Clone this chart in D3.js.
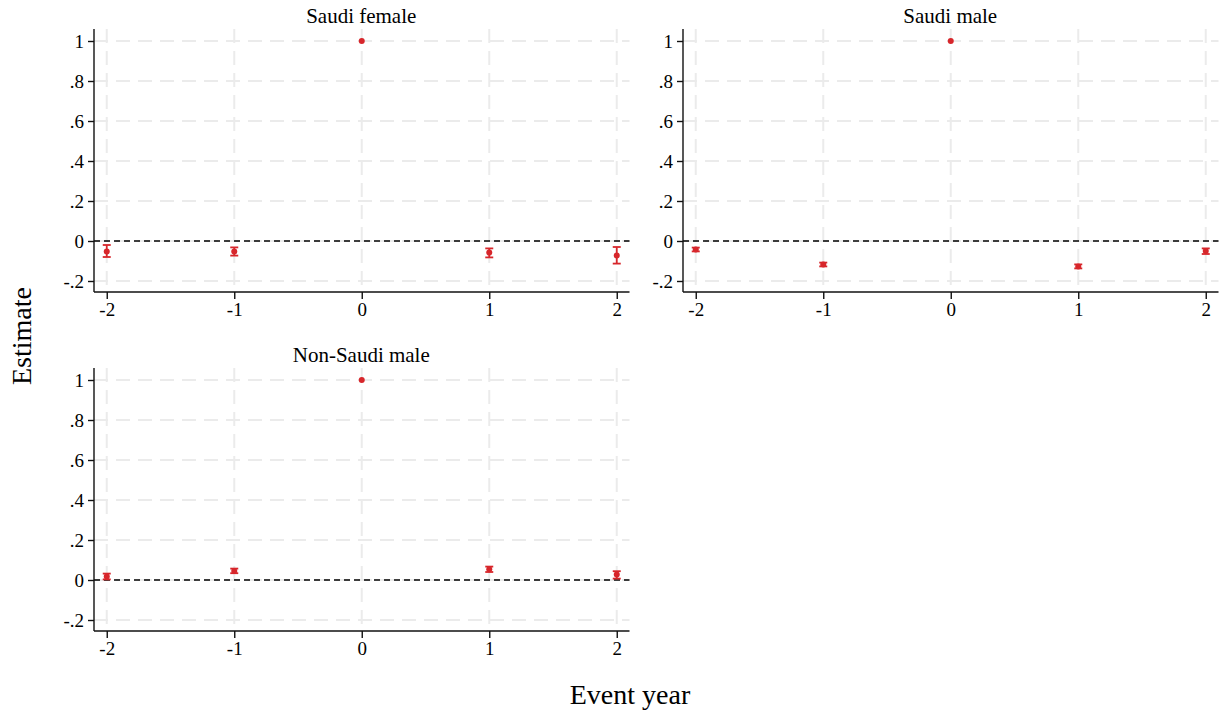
<!DOCTYPE html>
<html>
<head>
<meta charset="utf-8">
<script src="https://cdn.jsdelivr.net/npm/d3@7"></script>
<style>
  html, body { margin: 0; padding: 0; background: #fff; }
  svg { display: block; }
  svg text { font-family: "Liberation Serif", "Times New Roman", serif; }
</style>
</head>
<body>
<svg id="chart" width="1225" height="715"></svg>
<script>
// Event-study estimates by group, with 95% confidence bounds
const eventYears = [-2, -1, 0, 1, 2];
const groups = ["Saudi female", "Saudi male", "Non-Saudi male"];

const femaleEst = [-0.052, -0.052, 1, -0.058, -0.072];
const femaleLo  = [-0.080, -0.073, 1, -0.082, -0.113];
const femaleHi  = [-0.020, -0.032, 1, -0.037, -0.030];

const saudiMaleEst = [-0.042, -0.117, 1, -0.127, -0.050];
const saudiMaleLo  = [-0.052, -0.127, 1, -0.137, -0.065];
const saudiMaleHi  = [-0.033, -0.108, 1, -0.117, -0.037];

const nonSaudiEst = [0.017, 0.045, 1, 0.054, 0.027];
const nonSaudiLo  = [0.003, 0.034, 1, 0.040, 0.007];
const nonSaudiHi  = [0.032, 0.057, 1, 0.067, 0.044];

const yTicks = [-0.2, 0, 0.2, 0.4, 0.6, 0.8, 1];
const yTickLabels = ["-.2", "0", ".2", ".4", ".6", ".8", "1"];
const xTickLabels = ["-2", "-1", "0", "1", "2"];

const seriesByGroup = [
  { est: femaleEst, lo: femaleLo, hi: femaleHi },
  { est: saudiMaleEst, lo: saudiMaleLo, hi: saudiMaleHi },
  { est: nonSaudiEst, lo: nonSaudiLo, hi: nonSaudiHi }
];

const svg = d3.select("#chart");
const red = "#d7262b";
const gridColor = "#ebebeb";
const serif = "'Liberation Serif', 'Times New Roman', serif";

// Panel frames: left, right, top, bottom of each plot region
const panels = [
  { x0: 94,  x1: 629.5,  y0: 29,  y1: 292 },
  { x0: 683, x1: 1218.5, y0: 29,  y1: 292 },
  { x0: 94,  x1: 629.5,  y0: 368, y1: 631 }
];

panels.forEach((p, gi) => {
  const s = seriesByGroup[gi];
  const x = d3.scaleLinear().domain([-2.1, 2.1]).range([p.x0, p.x1]);
  const y = d3.scaleLinear().domain([-0.255, 1.06]).range([p.y1, p.y0]);
  const g = svg.append("g");

  // grid lines
  g.selectAll("line.hgrid").data(yTicks).join("line")
    .attr("x1", p.x0).attr("x2", p.x1)
    .attr("y1", d => y(d)).attr("y2", d => y(d))
    .attr("stroke", gridColor).attr("stroke-width", 2)
    .attr("stroke-dasharray", "14,8");
  g.selectAll("line.vgrid").data(eventYears).join("line")
    .attr("x1", d => x(d)).attr("x2", d => x(d))
    .attr("y1", p.y0).attr("y2", p.y1)
    .attr("stroke", gridColor).attr("stroke-width", 2)
    .attr("stroke-dasharray", "14,8");

  // reference line at zero
  g.append("line")
    .attr("x1", p.x0).attr("x2", p.x1)
    .attr("y1", y(0)).attr("y2", y(0))
    .attr("stroke", "#000").attr("stroke-width", 1.6)
    .attr("stroke-dasharray", "6,4");

  // axes
  const yAxis = d3.axisLeft(y).tickValues(yTicks)
    .tickFormat((d, i) => yTickLabels[i]).tickSize(6).tickPadding(4);
  const xAxis = d3.axisBottom(x).tickValues(eventYears)
    .tickFormat((d, i) => xTickLabels[i]).tickSize(7).tickPadding(4);

  const ya = g.append("g").attr("transform", `translate(${p.x0},0)`).call(yAxis);
  const xa = g.append("g").attr("transform", `translate(0,${p.y1})`).call(xAxis);
  [ya, xa].forEach(a => {
    a.attr("font-family", serif).attr("font-size", 19);
    a.select(".domain").attr("stroke", "#111").attr("stroke-width", 1.4);
    a.selectAll(".tick line").attr("stroke", "#111").attr("stroke-width", 1.4);
    a.selectAll(".tick text").attr("fill", "#000");
  });
  ya.select(".domain").attr("d", `M0,${p.y1}V${p.y0}`);
  xa.select(".domain").attr("d", `M${p.x0},0H${p.x1}`);

  // panel title
  g.append("text")
    .attr("x", (p.x0 + p.x1) / 2 - 0.5).attr("y", p.y0 - 6)
    .attr("text-anchor", "middle").attr("font-size", 21).attr("fill", "#000")
    .attr("font-family", serif)
    .text(groups[gi]);

  // confidence intervals
  const pts = eventYears.map((t, i) => ({ t, est: s.est[i], lo: s.lo[i], hi: s.hi[i] }));
  const ci = pts.filter(d => d.hi > d.lo);
  g.selectAll("line.ci").data(ci).join("line")
    .attr("x1", d => x(d.t)).attr("x2", d => x(d.t))
    .attr("y1", d => y(d.lo)).attr("y2", d => y(d.hi))
    .attr("stroke", red).attr("stroke-width", 1.8);
  ["lo", "hi"].forEach(k => {
    g.selectAll("line.cap" + k).data(ci).join("line")
      .attr("x1", d => x(d.t) - 4).attr("x2", d => x(d.t) + 4)
      .attr("y1", d => y(d[k])).attr("y2", d => y(d[k]))
      .attr("stroke", red).attr("stroke-width", 1.8);
  });

  // point estimates
  g.selectAll("circle.pt").data(pts).join("circle")
    .attr("cx", d => x(d.t)).attr("cy", d => y(d.est))
    .attr("r", 3).attr("fill", red);
});

// shared axis titles
svg.append("text")
  .attr("transform", "translate(31,336) rotate(-90)")
  .attr("text-anchor", "middle").attr("font-size", 28).attr("fill", "#000")
  .attr("font-family", serif)
  .text("Estimate");
svg.append("text")
  .attr("x", 630).attr("y", 704)
  .attr("text-anchor", "middle").attr("font-size", 28).attr("fill", "#000")
  .attr("font-family", serif)
  .text("Event year");
</script>
</body>
</html>
